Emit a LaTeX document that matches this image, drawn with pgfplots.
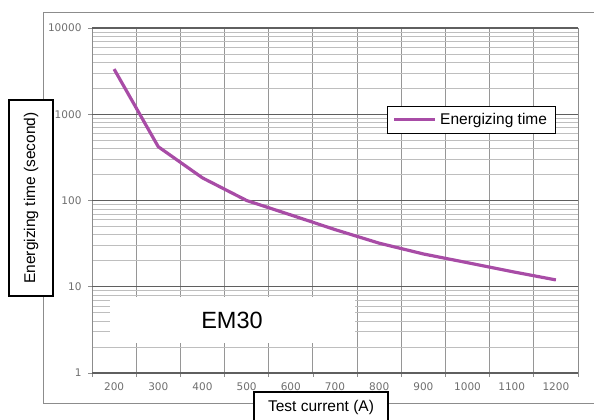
\documentclass[border=0pt]{standalone}
\usepackage{fontspec}
\setmainfont{Liberation Sans}
\newfontfamily\tickfont{DejaVu Sans}
\usepackage{pgfplots}
\pgfplotsset{compat=1.18}

\definecolor{curve}{RGB}{168,76,166}
\definecolor{framegray}{RGB}{140,140,140}
\definecolor{vgrid}{RGB}{150,150,150}
\definecolor{hmajor}{RGB}{95,95,95}
\definecolor{hminor}{RGB}{190,190,190}
\definecolor{ticktext}{RGB}{110,110,110}

\begin{document}
\begin{tikzpicture}[x=1pt,y=1pt]
\clip (0,0) rectangle (594,420);
% outer frame of the chart
\draw[framegray, line width=1pt] (600,407) -- (43,407) -- (43,16) -- (600,16);

\begin{axis}[
    at={(92pt,47pt)}, anchor=south west,
    scale only axis, width=486pt, height=345pt,
    xmin=150, xmax=1250,
    ymode=log, ymin=1, ymax=10000,
    xtick={150,250,...,1250},
    xticklabels={200,300,400,500,600,700,800,900,1000,1100,1200,{}},
    xticklabel style={xshift=22.1pt, yshift=-2.5pt},
    ytick={1,10,100,1000,10000},
    yticklabels={1,10,100,1000,10000},
    yticklabel style={xshift=-3pt},
    /pgf/number format/assume math mode=true,
    ticklabel style={font=\tickfont\fontsize{10.5}{12}\selectfont, text=ticktext},
    tick pos=left, tick align=outside,
    major tick length=4pt, minor tick length=0pt,
    tick style={framegray, line width=0.8pt},
    axis line style={framegray, line width=1pt},
    xmajorgrids, yminorgrids,
    major grid style={vgrid, line width=0.9pt},
    minor grid style={hminor, line width=0.7pt},
    extra y ticks={1,10,100,1000,10000},
    extra y tick labels={},
    extra y tick style={grid=major, major grid style={hmajor, line width=1.1pt}},
    legend style={at={(0.607,0.774)}, anchor=north west,
        draw=black, line width=1pt, fill=white,
        font=\fontsize{15.5}{18}\selectfont,
        inner xsep=5pt, inner ysep=5pt,
        nodes={inner xsep=3.5pt}},
    legend image code/.code={\draw[#1] (0pt,0pt) -- (41pt,0pt);},
]
\addplot[curve, line width=3.2pt] coordinates {
    (200,3340)
    (300,420)
    (400,183)
    (500,100)
    (600,68)
    (700,46)
    (800,32)
    (900,24)
    (1000,19)
    (1100,15)
    (1200,12)
};
\legend{Energizing time}
\end{axis}

% white patch with the model name
\fill[white] (110,77) rectangle (355,123);
\node[font=\fontsize{23.5}{26}\selectfont] at (232,99.5) {EM30};

% boxed axis titles
\node[draw=black, line width=1.2pt, fill=white, rotate=90,
      minimum width=196pt, minimum height=44pt, inner sep=0pt,
      font=\fontsize{15.5}{18}\selectfont] at (31,222) {Energizing time (second)};
\draw[black, line width=1.2pt, fill=white] (254,-5) rectangle (388,28);
\node[font=\fontsize{15.5}{18}\selectfont] at (321,12.5) {Test current (A)};
\end{tikzpicture}
\end{document}
